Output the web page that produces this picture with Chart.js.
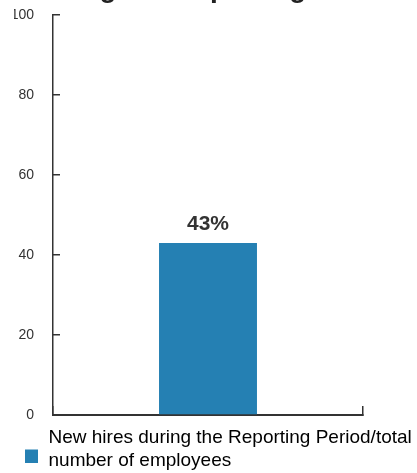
<!DOCTYPE html>
<html>
<head>
<meta charset="utf-8">
<script src="https://cdn.jsdelivr.net/npm/chart.js@4/dist/chart.umd.min.js"></script>
<style>
  html, body { margin: 0; padding: 0; background: #fff; overflow: hidden; }
  #wrap { position: relative; width: 417px; height: 501px; margin-top: -28px; }
</style>
</head>
<body>
<div id="wrap"><canvas id="canvas"></canvas></div>
<script>
var categories = [''];
var seriesLabel = ['New hires during the Reporting Period/total', 'number of employees'];
var values = [43];
var yTicks = [0, 20, 40, 60, 80, 100];
var titleText = 'during the Reporting Period';

var barColor = '#2580b3';
var axisColor = '#333333';
var fontFamily = '"Liberation Sans", Arial, sans-serif';

// legend swatch: square sits between the two text lines like the original
function legendSwatch() {
    var c = document.createElement('canvas');
    c.width = 13;
    c.height = 50;
    var g = c.getContext('2d');
    g.fillStyle = barColor;
    g.fillRect(0, 37, 13, 13);
    return c;
}

// bottom legend only reserves one text line, give it room for the second
var legendHeightFix = {
    id: 'legendHeightFix',
    afterInit: function(chart) {
        var legend = chart.legend;
        var fit = legend.fit;
        legend.fit = function() {
            fit.call(this);
            this.height += 16;
        };
    }
};

// draws the "43%" above each bar
var valueLabels = {
    id: 'valueLabels',
    afterDatasetsDraw: function(chart) {
        var ctx = chart.ctx;
        var meta = chart.getDatasetMeta(0);
        ctx.save();
        ctx.font = 'bold 21px ' + fontFamily;
        ctx.fillStyle = '#333333';
        ctx.textAlign = 'center';
        ctx.textBaseline = 'alphabetic';
        meta.data.forEach(function(bar, i) {
            ctx.fillText(values[i] + '%', bar.x, bar.y - 13);
        });
        ctx.restore();
    }
};

window.onload = function() {
    var ctx = document.getElementById('canvas').getContext('2d');
    var swatch = legendSwatch();
    window.myBar = new Chart(ctx, {
        type: 'bar',
        data: {
            labels: categories,
            datasets: [{
                label: seriesLabel,
                data: values,
                backgroundColor: barColor,
                borderWidth: 0,
                barPercentage: 0.316,
                categoryPercentage: 1
            }]
        },
        plugins: [legendHeightFix, valueLabels],
        options: {
            responsive: true,
            maintainAspectRatio: false,
            animation: false,
            layout: { padding: { left: 14, right: 0, top: 0, bottom: 0 } },
            plugins: {
                title: {
                    display: true,
                    text: titleText,
                    color: '#222222',
                    font: { family: fontFamily, size: 28, weight: 'bold' },
                    padding: { top: 0, bottom: 9.4 }
                },
                legend: {
                    position: 'bottom',
                    align: 'start',
                    labels: {
                        usePointStyle: true,
                        pointStyleWidth: 15,
                        boxWidth: 15,
                        color: '#333333',
                        font: { family: fontFamily, size: 19 },
                        generateLabels: function(chart) {
                            return [{
                                text: seriesLabel,
                                fillStyle: barColor,
                                strokeStyle: barColor,
                                lineWidth: 0,
                                pointStyle: swatch,
                                datasetIndex: 0
                            }];
                        }
                    }
                },
                tooltip: { enabled: false }
            },
            scales: {
                x: {
                    offset: true,
                    grid: { offset: true, drawOnChartArea: false, drawTicks: true, tickLength: -9, color: axisColor, lineWidth: 1.5 },
                    border: { display: true, color: axisColor, width: 2 },
                    ticks: { display: false },
                    afterFit: function(scale) { scale.height = 3; }
                },
                y: {
                    min: 0,
                    max: 100,
                    afterBuildTicks: function(scale) {
                        scale.ticks = yTicks.map(function(v) { return { value: v }; });
                    },
                    grid: { drawOnChartArea: false, drawTicks: true, tickLength: -7, color: axisColor, lineWidth: 1.5 },
                    border: { display: true, color: axisColor, width: 1.5 },
                    ticks: {
                        color: '#333333',
                        padding: 26,
                        font: { family: fontFamily, size: 14 }
                    },
                    afterFit: function(scale) { scale.width = 39; }
                },
                // empty right axis, only keeps the gap right of the plot
                yRight: {
                    position: 'right',
                    min: 0,
                    max: 100,
                    grid: { display: false },
                    border: { display: false },
                    ticks: { display: false },
                    afterFit: function(scale) { scale.width = 54; }
                }
            }
        }
    });
};
</script>
</body>
</html>
